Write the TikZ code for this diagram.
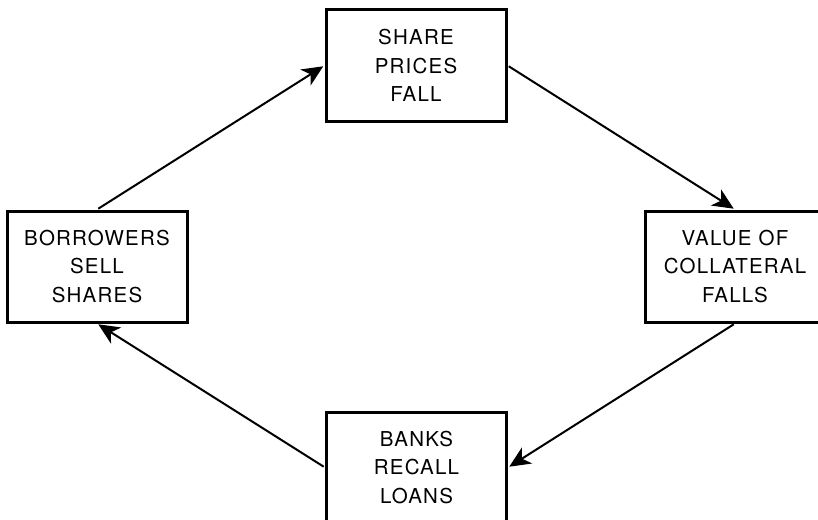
\documentclass[tikz,border=0pt]{standalone}
\usepackage{fontspec}
\setmainfont{TeX Gyre Heros}[LetterSpace=6]
\usetikzlibrary{arrows.meta}

\begin{document}
\begin{tikzpicture}[x=1pt, y=-1pt,
    stage/.style={draw, line width=3pt, minimum width=180pt, minimum height=111pt,
      inner sep=0pt, align=center, font=\fontsize{20.5}{28.5}\selectfont},
    link/.style={-{Stealth[length=21pt, width=19pt, inset=6pt]}, line width=2pt,
      shorten >=1.5pt, shorten <=1.5pt}]
  % \draw[help lines, gray!50, very thin] (0,0) grid[step=50] (818,519);
  \clip (0,0) rectangle (818,519);

  \node[stage] (prices) at (416,65.5) {SHARE\\PRICES\\FALL};
  \node[stage] (value) at (735,266.5) {VALUE OF\\COLLATERAL\\FALLS};
  \node[stage] (recall) at (416.5,467.5) {BANKS\\RECALL\\LOANS};
  \node[stage] (sell) at (97,266.5) {BORROWERS\\SELL\\SHARES};

  \draw[link] (sell.north) -- (prices.west);
  \draw[link] (prices.east) -- (value.north);
  \draw[link] (value.south) -- (recall.east);
  \draw[link] (recall.west) -- (sell.south);
\end{tikzpicture}
\end{document}
